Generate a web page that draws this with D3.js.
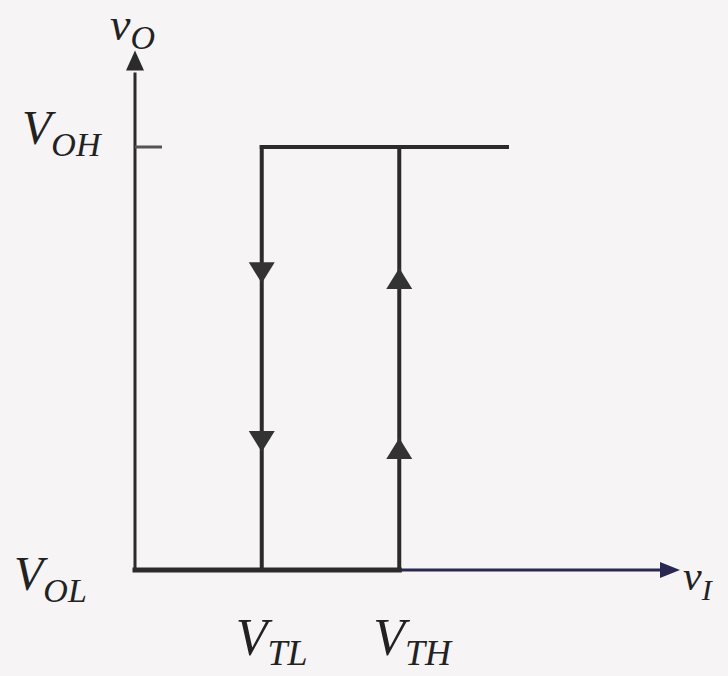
<!DOCTYPE html>
<html>
<head>
<meta charset="utf-8">
<script src="https://cdn.jsdelivr.net/npm/d3@7"></script>
<style>
  html, body { margin: 0; padding: 0; background: #f6f4f5; }
  text { font-family: "Liberation Serif", "DejaVu Serif", serif; font-style: italic; fill: #222; }
</style>
</head>
<body>
<div id="chart"></div>
<script>
  // input axis (v_I) and output axis (v_O), in arbitrary units
  var xMax = 8.6, yMax = 1.2;
  var outLevels = [0, 1];            // V_OL, V_OH
  var thresholds = [2.0, 4.17];      // V_TL, V_TH
  var upperEnd = 5.87;               // where the V_OH branch stops
  var downArrows = [0.678, 0.279];   // arrow tips on the V_TL branch
  var upArrows = [0.714, 0.312];     // arrow tips on the V_TH branch
  var levelNames = [["V", "OL"], ["V", "OH"]];
  var thresholdNames = [["V", "TL"], ["V", "TH"]];
  var axisNames = [["v", "I"], ["v", "O"]];

  var W = 728, H = 676;
  var x = d3.scaleLinear().domain([0, xMax]).range([135, 680]);
  var y = d3.scaleLinear().domain([0, 1]).range([570, 147]);

  var svg = d3.select('#chart').append('svg')
              .attr('width', W).attr('height', H);

  var ink = '#2b2b2b';
  var line = d3.line().x(function(d){ return x(d[0]); }).y(function(d){ return y(d[1]); });

  // y axis with arrow
  svg.append('line')
     .attr('x1', x(0)).attr('x2', x(0))
     .attr('y1', y(outLevels[0]) + 2).attr('y2', y(yMax) + 10)
     .style('stroke', ink).style('stroke-width', 3);
  svg.append('path')
     .attr('d', 'M' + x(0) + ',' + (y(yMax) - 12) + 'l-9,20l18,0z')
     .style('fill', ink);

  // V_OH tick
  svg.append('line')
     .attr('x1', x(0)).attr('x2', x(0) + 27)
     .attr('y1', y(outLevels[1])).attr('y2', y(outLevels[1]))
     .style('stroke', '#555').style('stroke-width', 3);

  // x axis, thin part then arrow
  svg.append('line')
     .attr('x1', x(thresholds[1])).attr('x2', x(xMax) - 10)
     .attr('y1', y(outLevels[0])).attr('y2', y(outLevels[0]))
     .style('stroke', '#2a2850').style('stroke-width', 3);
  svg.append('path')
     .attr('d', 'M' + x(xMax) + ',' + y(outLevels[0]) + 'l-20,-8l0,16z')
     .style('fill', '#2a2850');

  // hysteresis loop
  var branches = [
    [[0, outLevels[0]], [thresholds[1], outLevels[0]]],
    [[thresholds[1], outLevels[0]], [thresholds[1], outLevels[1]]],
    [[thresholds[0], outLevels[1]], [upperEnd, outLevels[1]]],
    [[thresholds[0], outLevels[1]], [thresholds[0], outLevels[0]]]
  ];
  svg.selectAll('.branch').data(branches).enter().append('path')
     .attr('class', 'branch')
     .attr('d', line)
     .style('fill', 'none').style('stroke', ink)
     .style('stroke-width', function(d, i){ return i === 0 ? 5 : 4; })
     .style('stroke-linecap', 'square');

  // direction arrows
  svg.selectAll('.down').data(downArrows).enter().append('path')
     .attr('class', 'down')
     .attr('d', function(d){ var cx = x(thresholds[0]), cy = y(d); return 'M' + cx + ',' + cy + 'l-13,-21l26,0z'; })
     .style('fill', '#333');
  svg.selectAll('.up').data(upArrows).enter().append('path')
     .attr('class', 'up')
     .attr('d', function(d){ var cx = x(thresholds[1]), cy = y(d); return 'M' + cx + ',' + cy + 'l-13,21l26,0z'; })
     .style('fill', '#333');

  // labels
  function label(pos, name, big, small, drop){
    var t = svg.append('text').attr('x', pos[0]).attr('y', pos[1]);
    t.append('tspan').style('font-size', big + 'px').text(name[0]);
    t.append('tspan').attr('dy', drop).style('font-size', small + 'px').text(name[1]);
    return t;
  }

  label([22, y(outLevels[1]) - 3], levelNames[1], 48, 34, 12);
  label([14, y(outLevels[0]) + 20], levelNames[0], 48, 34, 12);
  thresholdNames.forEach(function(n, i){
    label([x(thresholds[i]) - 26, y(outLevels[0]) + 85], n, 52, 36, 10);
  });
  label([683, y(outLevels[0]) + 20], axisNames[0], 42, 30, 10);
  label([110, 40], axisNames[1], 46, 34, 9);
</script>
</body>
</html>
